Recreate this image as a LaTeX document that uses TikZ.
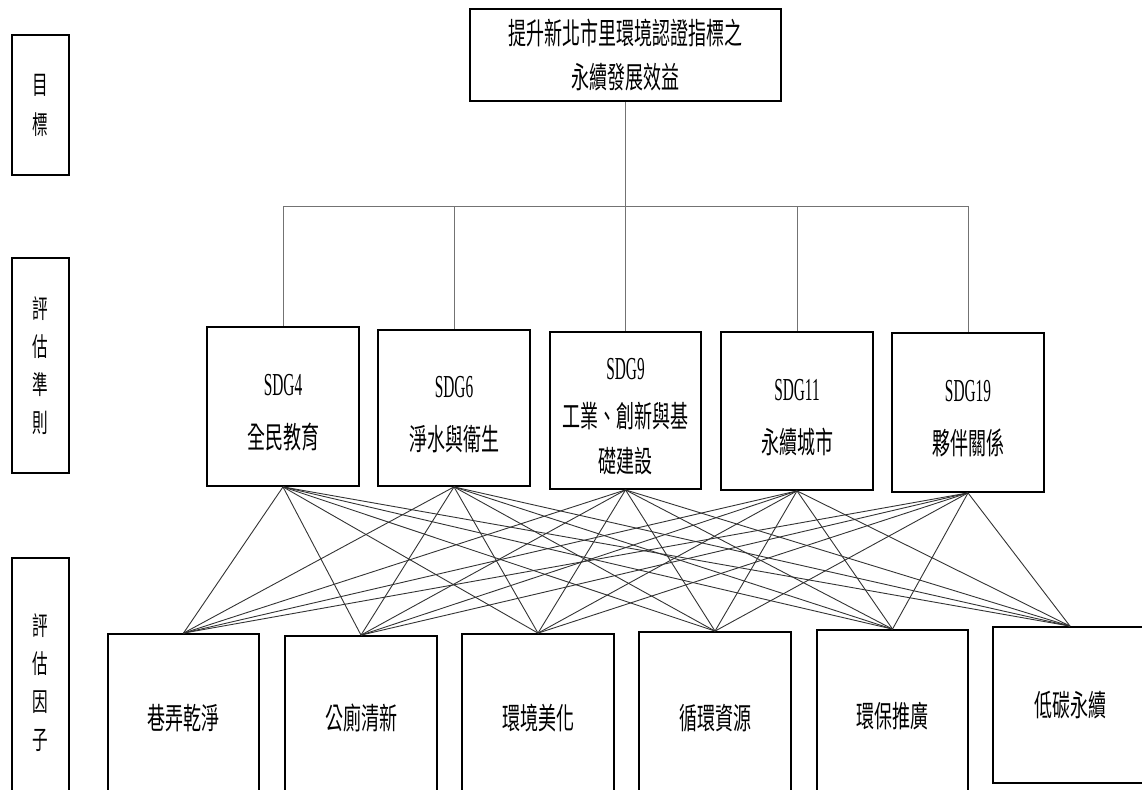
\documentclass[tikz,border=0pt]{standalone}
\usepackage{fontspec}
\setmainfont{Liberation Serif}[FakeStretch=0.48]
\newfontfamily\cjkfont{Noto Sans CJK TC}[FakeStretch=0.6]
\newcommand\sdgtxt[1]{\rule{0pt}{34pt}{\rmfamily\fontsize{32}{45}\selectfont #1}}
\begin{document}
\begin{tikzpicture}[x=1pt,y=-1pt,
  box/.style={draw=black, line width=1.8pt, rectangle, inner sep=0pt, align=center,
    font=\cjkfont\fontsize{30}{45}\selectfont},
  labbox/.style={box, minimum width=57pt, font=\cjkfont\fontsize{26}{38}\selectfont},
  sdgbox/.style={box, minimum width=152pt},
  facbox/.style={box, minimum width=152pt},
  link/.style={draw=black!80, line width=0.9pt},
  drop/.style={draw=black!55, line width=1pt}]
\useasboundingbox (0,0) rectangle (1142,789);
\clip (0,0) rectangle (1142,789);
% left labels
\node[labbox, minimum height=140pt, font=\cjkfont\fontsize{26}{40}\selectfont] (l1) at (40.5,105) {目\\標};
\node[labbox, minimum height=215pt] (l2) at (40.5,365.5) {評\\估\\準\\則};
\node[labbox, minimum height=250pt] (l3) at (40.5,683) {評\\估\\因\\子};
% goal
\node[box, minimum width=311pt, minimum height=92pt, font=\cjkfont\fontsize{30}{44}\selectfont] (top) at (625.5,55) {提升新北市里環境認證指標之\\永續發展效益};
% criteria
\node[sdgbox, minimum height=159pt] (s4) at (283,406.5) {\sdgtxt{SDG4}\\[8pt]全民教育};
\node[sdgbox, minimum height=156pt] (s6) at (454,408) {\sdgtxt{SDG6}\\[8pt]淨水與衛生};
\node[sdgbox, minimum width=151pt, minimum height=157pt] (s9) at (625.5,410.5) {\sdgtxt{SDG9}\\[3pt]工業、創新與基\\礎建設};
\node[sdgbox, minimum height=158pt] (s11) at (797,411) {\sdgtxt{SDG11}\\[8pt]永續城市};
\node[sdgbox, minimum height=159pt] (s19) at (968,412.5) {\sdgtxt{SDG19}\\[8pt]夥伴關係};
% factors
\node[facbox, minimum width=151pt, minimum height=168pt] (f1) at (183.5,718) {巷弄乾淨};
\node[facbox, minimum height=164pt] (f2) at (361,718) {公廁清新};
\node[facbox, minimum height=168pt] (f3) at (538,718) {環境美化};
\node[facbox, minimum height=172pt] (f4) at (715,718) {循環資源};
\node[facbox, minimum width=151pt, minimum height=172pt] (f5) at (892.5,716) {環保推廣};
\node[facbox, minimum width=154pt, minimum height=156pt] (f6) at (1070,705) {低碳永續};
% tree connectors
\coordinate (bar) at (625.5,206);
\draw[drop] (top.south) -- (bar);
\draw[drop] (s4.north |- bar) -- (s19.north |- bar);
\foreach \s in {s4,s6,s9,s11,s19}{
  \draw[drop] (\s.north |- bar) -- (\s.north);
}
% full bipartite links
\foreach \s in {s4,s6,s9,s11,s19}{
  \foreach \f in {f1,f2,f3,f4,f5,f6}{
    \draw[link] (\s.south) -- (\f.north);
  }
}
\end{tikzpicture}
\end{document}
